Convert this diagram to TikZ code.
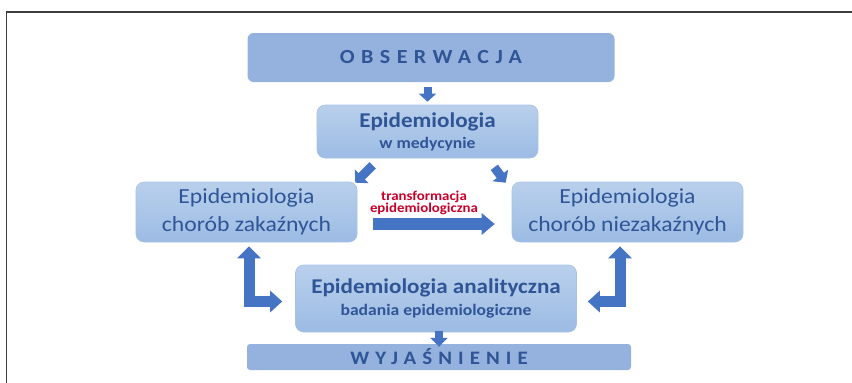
\documentclass[tikz,border=0pt]{standalone}
\usepackage{fontspec}
\setmainfont{Carlito}[FakeStretch=1.1]
\usetikzlibrary{arrows.meta}

\definecolor{bandfill}{HTML}{95B2DF}
\definecolor{boxtop}{HTML}{B9D0EC}
\definecolor{boxbot}{HTML}{9CBBE4}
\definecolor{boxline}{HTML}{A8C2E6}
\definecolor{txtblue}{HTML}{2F5597}
\definecolor{arrblue}{HTML}{4674C5}
\definecolor{redtxt}{HTML}{C8002A}
\definecolor{framegray}{HTML}{3C3C3C}

\begin{document}
\begin{tikzpicture}[x=1pt,y=-1pt]
 \useasboundingbox (0,0) rectangle (852,383);
 \draw[framegray,line width=1.3pt] (6.5,383) -- (6.5,12) -- (852,12);
 \tikzstyle{band} = [rectangle,rounded corners=6pt,fill=bandfill,inner sep=0pt,text=txtblue]
 \tikzstyle{box} = [rectangle,rounded corners=8pt,top color=boxtop,bottom color=boxbot,
   draw=boxline,line width=0.6pt,inner sep=0pt,text=txtblue,align=center]
 \tikzstyle{barrow} = [arrblue,line width=8pt,
   -{Triangle[width=17pt,length=8pt]}]
 \node[band,minimum width=367pt,minimum height=49pt,font=\fontsize{20}{24}\selectfont\bfseries\addfontfeatures{LetterSpace=32}] (obs) at (431,57.5) {OBSERWACJA};
 \node[box,minimum width=221pt,minimum height=53pt,font=\fontsize{16}{21}\selectfont\bfseries] (med) at (427.5,131.5)
   {{\fontsize{21}{21}\selectfont Epidemiologia}\\w medycynie};
 \node[box,minimum width=221pt,minimum height=60pt,font=\fontsize{21.5}{28.5}\selectfont] (left) at (246.5,212)
   {Epidemiologia\\chorób zakaźnych};
 \node[box,minimum width=231pt,minimum height=60pt,font=\fontsize{21.5}{28.5}\selectfont] (right) at (627.5,212)
   {Epidemiologia\\chorób niezakaźnych};
 \node[box,minimum width=281pt,minimum height=67pt,font=\fontsize{16}{22}\selectfont\bfseries] (ana) at (436,298.5)
   {{\fontsize{21}{22}\selectfont Epidemiologia analityczna}\\badania epidemiologiczne};
 \node[band,rounded corners=3pt,minimum width=384pt,minimum height=26pt,font=\fontsize{19}{22}\selectfont\bfseries\addfontfeatures{LetterSpace=32}] (wyj) at (439,357) {WYJAŚNIENIE};
 \node[text=redtxt,align=center,font=\fontsize{13.5}{12.5}\selectfont\bfseries] (trans) at (424,203)
   {transformacja\\epidemiologiczna};
 % arrows between the boxes
 \draw[barrow,shorten <=5pt,shorten >=3pt] (obs.south -| med.north) -- (med.north);
 \draw[barrow,line width=9pt,-{Triangle[width=19pt,length=9pt]}] ([xshift=56pt,yshift=-7pt]med.south west) -- ([xshift=-2pt,yshift=-1pt]left.north east);
 \draw[barrow,line width=9pt,-{Triangle[width=19pt,length=9pt]}] ([xshift=-44pt,yshift=-9pt]med.south east) -- ([xshift=-6pt,yshift=-1pt]right.north west);
 \draw[barrow,line width=12pt,-{Triangle[width=21pt,length=13pt]},shorten <=16pt,shorten >=17pt]
   ([yshift=-12pt]left.east) -- ([yshift=-12pt]right.west);
 \draw[barrow,line width=11pt,{Triangle[width=23pt,length=12pt]}-{Triangle[width=21pt,length=12pt]},
   shorten <=4pt,shorten >=13pt] ([xshift=2.5pt]left.south) |- ([yshift=-3pt]ana.west);
 \draw[barrow,line width=11pt,{Triangle[width=23pt,length=12pt]}-{Triangle[width=21pt,length=12pt]},
   shorten <=4pt,shorten >=11pt] ([xshift=-7.5pt]right.south) |- ([yshift=-3pt]ana.east);
 \draw[barrow,shorten <=-1pt,shorten >=-3pt,-{Triangle[width=17pt,length=9pt]}] (ana.south -| wyj.north) -- (wyj.north);
\end{tikzpicture}
\end{document}
